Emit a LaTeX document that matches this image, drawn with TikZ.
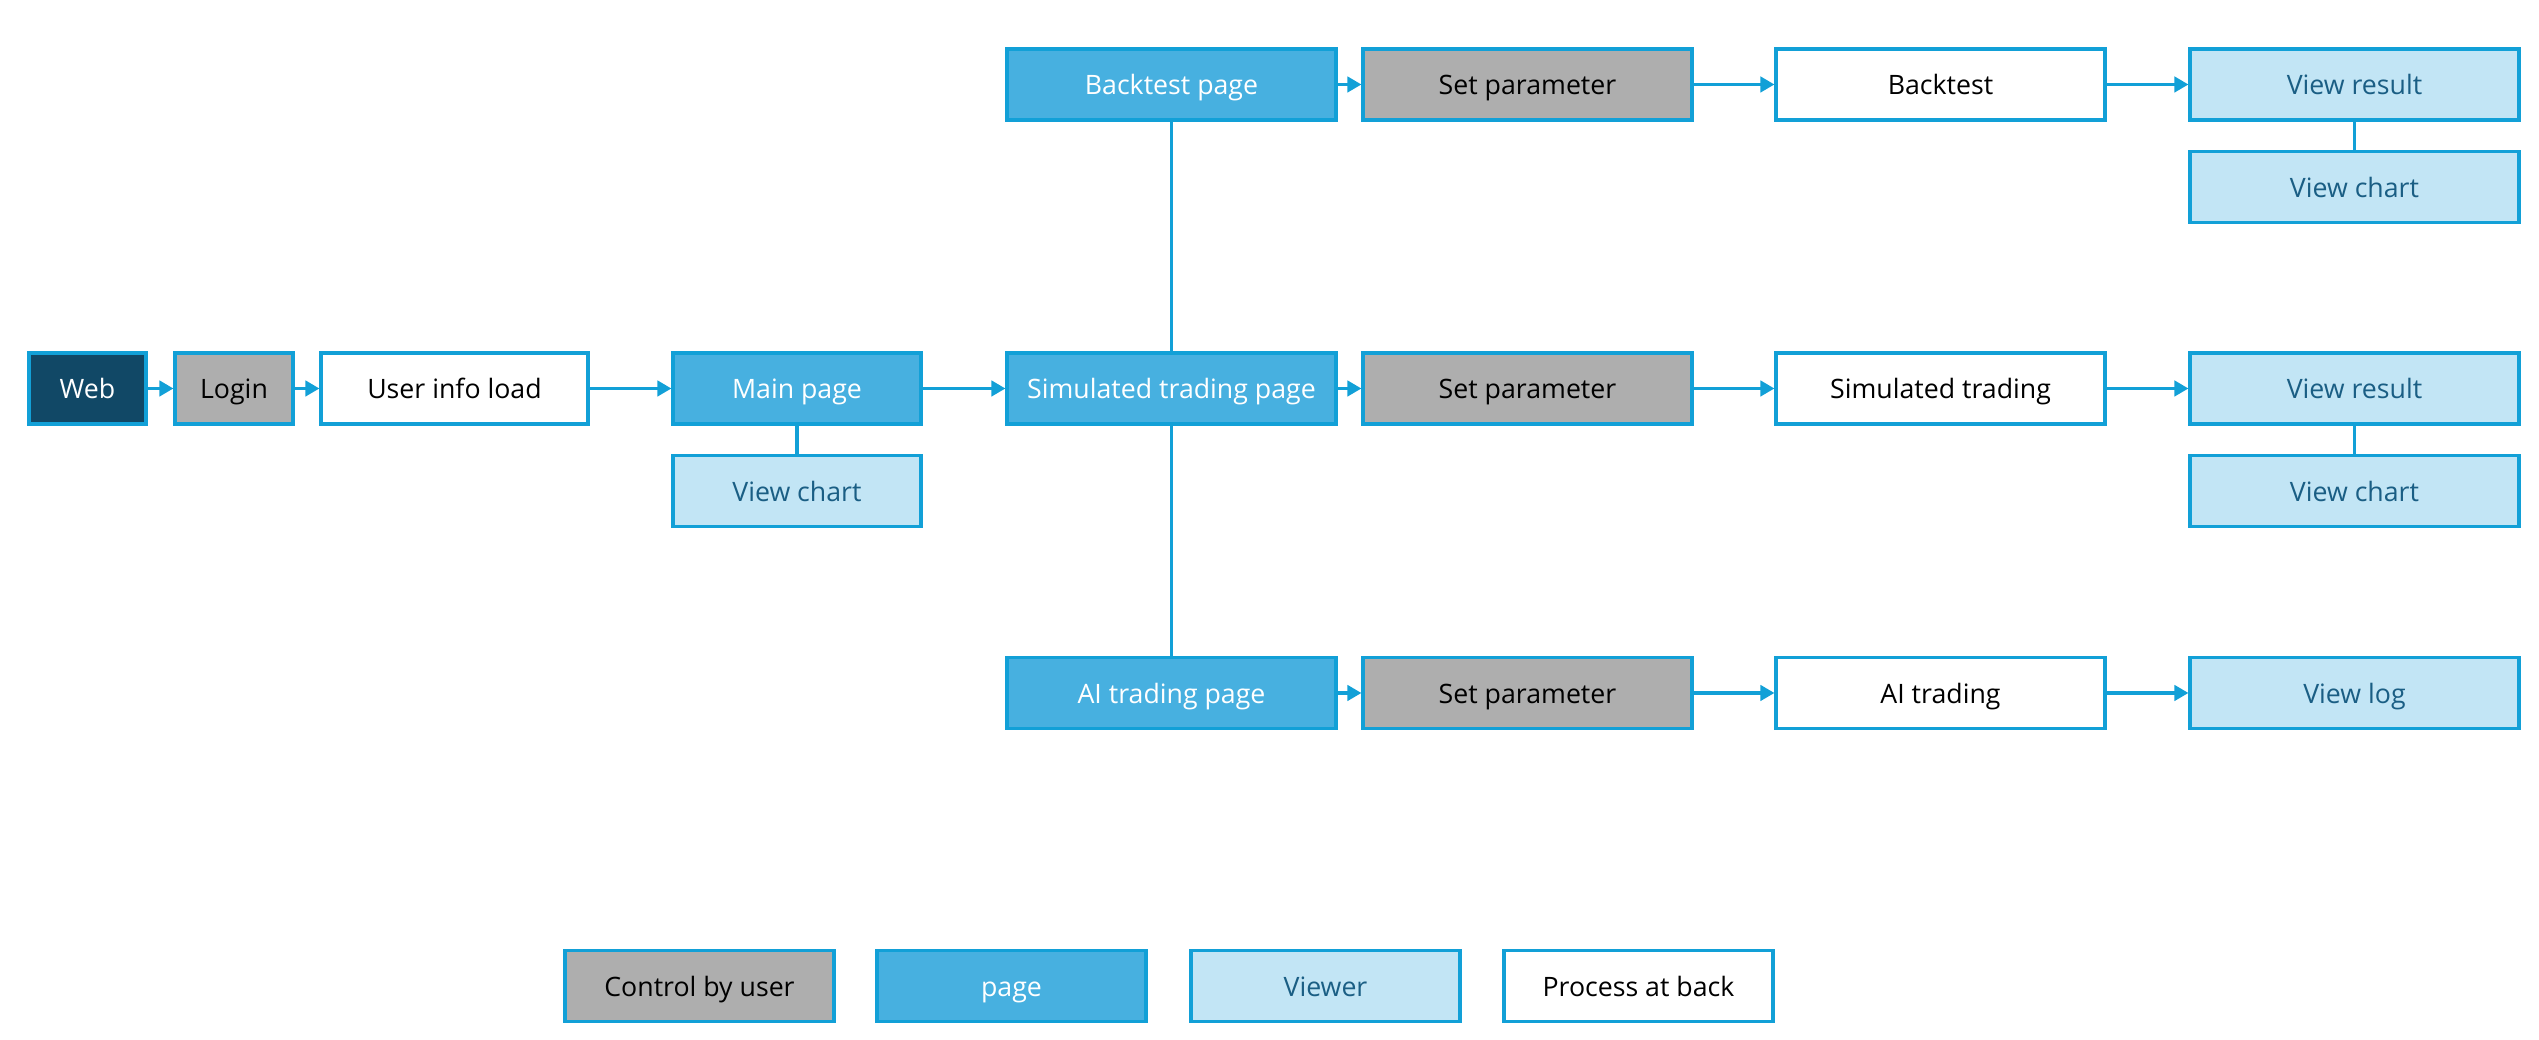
\documentclass[tikz,border=0pt]{standalone}
\usepackage{fontspec}
\setmainfont{Open Sans}
\usetikzlibrary{arrows.meta}
\definecolor{edge}{RGB}{18,160,215}
\definecolor{webnavy}{RGB}{17,72,102}
\definecolor{ctrlgray}{RGB}{174,174,174}
\definecolor{pageblue}{RGB}{71,176,224}
\definecolor{viewblue}{RGB}{194,229,245}
\definecolor{viewtext}{RGB}{26,94,132}
\begin{document}
\begin{tikzpicture}
    [
    box/.style={draw=edge,line width=0.9pt,minimum height=0.71cm,inner sep=0pt,text height=1.55ex,text depth=0.45ex,font=\fontsize{7.6}{9}\selectfont},
    ctrl/.style={box,fill=ctrlgray,text=black},
    page/.style={box,fill=pageblue,text=white},
    viewer/.style={box,fill=viewblue,text=viewtext},
    proc/.style={box,fill=white,text=black},
    wide/.style={minimum width=3.29cm},
    flow/.style={draw=edge,line width=0.9pt,-{Triangle[length=4pt,width=4.4pt]}},
    link/.style={draw=edge,line width=0.9pt},
    ]
    \useasboundingbox (0,0) rectangle (25.39,10.40);
    % start row
    \node (web) at (0.875,6.515) [box,fill=webnavy,text=white,minimum width=1.17cm] {Web};
    \node (login) at (2.34,6.515) [ctrl,minimum width=1.18cm] {Login};
    \node (userinfo) at (4.545,6.515) [proc,minimum width=2.67cm] {User info load};
    \node (mainpage) at (7.97,6.515) [page,minimum width=2.48cm] {Main page};
    \node (mainchart) at (7.97,5.49) [viewer,minimum width=2.48cm] {View chart};
    % pages
    \node (btpage) at (11.715,9.555) [page,wide] {Backtest page};
    \node (simpage) at (11.715,6.515) [page,wide] {Simulated trading page};
    \node (aipage) at (11.715,3.47) [page,wide] {AI trading page};
    % parameters
    \node (btparam) at (15.275,9.555) [ctrl,wide] {Set parameter};
    \node (simparam) at (15.275,6.515) [ctrl,wide] {Set parameter};
    \node (aiparam) at (15.275,3.47) [ctrl,wide] {Set parameter};
    % processes
    \node (btproc) at (19.405,9.555) [proc,wide] {Backtest};
    \node (simproc) at (19.405,6.515) [proc,wide] {Simulated trading};
    \node (aiproc) at (19.405,3.47) [proc,wide] {AI trading};
    % viewers
    \node (btresult) at (23.545,9.555) [viewer,wide] {View result};
    \node (btchart) at (23.545,8.53) [viewer,wide] {View chart};
    \node (simresult) at (23.545,6.515) [viewer,wide] {View result};
    \node (simchart) at (23.545,5.49) [viewer,wide] {View chart};
    \node (ailog) at (23.545,3.47) [viewer,wide] {View log};
    % legend
    \node (legctrl) at (6.995,0.54) [ctrl,minimum width=2.69cm] {Control by user};
    \node (legpage) at (10.115,0.54) [page,minimum width=2.69cm] {page};
    \node (legview) at (13.255,0.54) [viewer,minimum width=2.69cm] {Viewer};
    \node (legproc) at (16.385,0.54) [proc,minimum width=2.69cm] {Process at back};

    \draw [flow] (web) to (login);
    \draw [flow] (login) to (userinfo);
    \draw [flow] (userinfo) to (mainpage);
    \draw [flow] (mainpage) to (simpage);
    \draw [link] (mainpage) to (mainchart);
    \draw [link] (btpage) to (simpage);
    \draw [link] (simpage) to (aipage);
    \draw [flow] (btpage) to (btparam);
    \draw [flow] (simpage) to (simparam);
    \draw [flow] (aipage) to (aiparam);
    \draw [flow] (btparam) to (btproc);
    \draw [flow] (simparam) to (simproc);
    \draw [flow] (aiparam) to (aiproc);
    \draw [flow] (btproc) to (btresult);
    \draw [flow] (simproc) to (simresult);
    \draw [flow] (aiproc) to (ailog);
    \draw [link] (btresult) to (btchart);
    \draw [link] (simresult) to (simchart);
  \end{tikzpicture}
\end{document}
